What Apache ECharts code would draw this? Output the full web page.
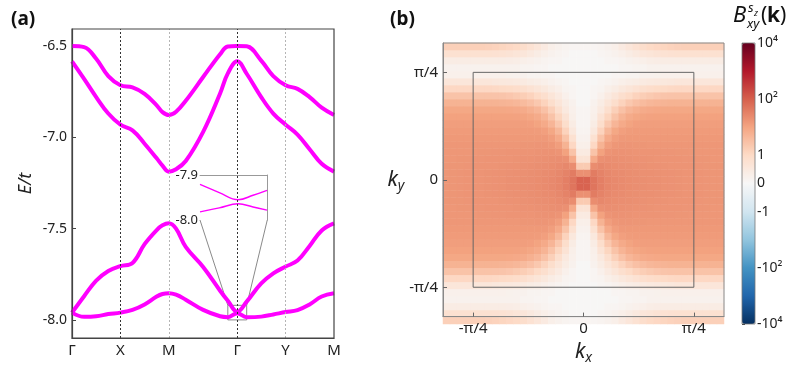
<!DOCTYPE html>
<html><head><meta charset="utf-8">
<script src="https://cdn.jsdelivr.net/npm/echarts@6/dist/echarts.min.js"></script>
<style>html,body{margin:0;padding:0;background:#fff}#c{width:797px;height:370px}</style>
</head><body><div id="c"></div>
<script>
// ---------------- panel (a): band structure ----------------
const pathK = [0, 0.25, 0.5, 0.75, 1, 1.25, 1.5, 1.75, 1.87, 2, 2.15, 2.35, 2.71, 3.06, 3.22, 3.414, 3.61, 3.91, 4.16, 4.414, 4.66, 4.91, 5.16, 5.414];
const pathTickK = [0, 1, 2, 3.414, 4.414, 5.414];
const pathTickLabels = ['Γ', 'X', 'M', 'Γ', 'Y', 'M'];
const band1 = [-6.500, -6.506, -6.570, -6.665, -6.715, -6.727, -6.762, -6.825, -6.862, -6.878, -6.860, -6.800, -6.670, -6.545, -6.503, -6.500, -6.502, -6.580, -6.665, -6.715, -6.735, -6.780, -6.838, -6.878];
const band2 = [-6.584, -6.680, -6.780, -6.870, -6.931, -6.962, -7.035, -7.115, -7.155, -7.188, -7.175, -7.130, -6.970, -6.760, -6.650, -6.584, -6.652, -6.780, -6.870, -6.931, -6.985, -7.065, -7.145, -7.188];
const band3 = [-7.960, -7.870, -7.785, -7.732, -7.705, -7.688, -7.585, -7.508, -7.482, -7.471, -7.500, -7.600, -7.710, -7.840, -7.895, -7.955, -7.900, -7.800, -7.745, -7.708, -7.675, -7.595, -7.510, -7.471];
const band4 = [-7.960, -7.983, -7.980, -7.968, -7.960, -7.945, -7.915, -7.872, -7.858, -7.854, -7.862, -7.889, -7.945, -7.980, -7.985, -7.963, -7.985, -7.982, -7.970, -7.957, -7.946, -7.915, -7.872, -7.854];
const energyTicks = [-8.0, -7.5, -7.0, -6.5];
const guideK = [1, 2, 3.414, 4.414];
const guideDark = [true, false, true, false];
// inset (zoom around the second Γ)
const insetK = [-0.2, -0.099, 0, 0.078, 0.151];
const insetUpper = [-7.921, -7.939, -7.955, -7.945, -7.934];
const insetLower = [-7.982, -7.973, -7.964, -7.971, -7.978];
const insetTicks = [-8.0, -7.9];
const zoomBoxK = [3.22, 3.61];
const zoomBoxE = [-8.0, -7.92];
const insetAnchorK = [2.645, 4.035];
const insetAnchorE = -7.453;

// ---------------- panel (b): map ----------------
const kTickValues = [-Math.PI / 4, 0, Math.PI / 4];
const kTickLabels = ['-π/4', '0', 'π/4'];
const innerBoxHalf = Math.PI / 4;
const cbTickValues = [-5, -3, -1, 0, 1, 3, 5];
const cbTickLabels = ['-10⁴', '-10²', '-1', '0', '1', '10²', '10⁴'];
// rows: |ky| = 0.025 ... 0.975, cols: |kx| = 0.025 ... 0.975
const mapQuadrant = [
 [2.95, 2.70, 2.55, 2.45, 2.40, 2.38, 2.35, 2.33, 2.32, 2.30, 2.30, 2.28, 2.27, 2.26, 2.25, 2.25, 2.24, 2.23, 2.22, 2.22],
 [2.30, 2.60, 2.50, 2.42, 2.38, 2.36, 2.34, 2.32, 2.31, 2.30, 2.29, 2.28, 2.27, 2.26, 2.25, 2.25, 2.24, 2.23, 2.22, 2.22],
 [1.30, 2.35, 2.42, 2.38, 2.35, 2.33, 2.32, 2.30, 2.29, 2.28, 2.27, 2.26, 2.25, 2.25, 2.24, 2.24, 2.23, 2.22, 2.22, 2.22],
 [0.70, 1.90, 2.30, 2.33, 2.32, 2.30, 2.29, 2.28, 2.27, 2.26, 2.25, 2.25, 2.24, 2.24, 2.23, 2.23, 2.22, 2.22, 2.21, 2.21],
 [0.45, 1.45, 2.05, 2.25, 2.28, 2.27, 2.26, 2.25, 2.25, 2.24, 2.24, 2.23, 2.23, 2.22, 2.22, 2.21, 2.21, 2.20, 2.20, 2.20],
 [0.30, 1.05, 1.75, 2.10, 2.20, 2.23, 2.23, 2.22, 2.22, 2.21, 2.21, 2.21, 2.20, 2.20, 2.20, 2.20, 2.20, 2.20, 2.20, 2.20],
 [0.20, 0.80, 1.45, 1.90, 2.10, 2.17, 2.18, 2.18, 2.18, 2.18, 2.18, 2.18, 2.18, 2.18, 2.18, 2.18, 2.18, 2.18, 2.18, 2.18],
 [0.15, 0.55, 1.15, 1.65, 1.95, 2.08, 2.13, 2.15, 2.15, 2.15, 2.15, 2.15, 2.15, 2.15, 2.15, 2.15, 2.15, 2.15, 2.15, 2.15],
 [0.10, 0.40, 0.90, 1.35, 1.70, 1.90, 2.02, 2.08, 2.10, 2.10, 2.10, 2.10, 2.10, 2.10, 2.10, 2.10, 2.10, 2.10, 2.10, 2.10],
 [0.10, 0.30, 0.70, 1.10, 1.45, 1.72, 1.88, 1.97, 2.02, 2.04, 2.05, 2.05, 2.05, 2.05, 2.05, 2.05, 2.05, 2.05, 2.05, 2.05],
 [0.10, 0.25, 0.50, 0.85, 1.20, 1.48, 1.68, 1.80, 1.88, 1.92, 1.94, 1.95, 1.95, 1.95, 1.95, 1.95, 1.95, 1.95, 1.95, 1.95],
 [0.05, 0.20, 0.40, 0.65, 0.90, 1.15, 1.35, 1.50, 1.60, 1.67, 1.71, 1.73, 1.75, 1.75, 1.75, 1.75, 1.75, 1.75, 1.75, 1.75],
 [0.05, 0.10, 0.25, 0.45, 0.65, 0.85, 1.00, 1.15, 1.25, 1.32, 1.38, 1.42, 1.44, 1.45, 1.45, 1.45, 1.45, 1.45, 1.45, 1.45],
 [0.05, 0.10, 0.15, 0.30, 0.40, 0.55, 0.65, 0.75, 0.85, 0.92, 0.97, 1.00, 1.03, 1.05, 1.05, 1.05, 1.05, 1.05, 1.05, 1.05],
 [0.05, 0.05, 0.10, 0.15, 0.20, 0.30, 0.35, 0.40, 0.45, 0.50, 0.52, 0.55, 0.57, 0.60, 0.60, 0.60, 0.60, 0.60, 0.60, 0.60],
 [0.05, 0.05, 0.05, 0.05, 0.10, 0.10, 0.15, 0.15, 0.20, 0.20, 0.22, 0.25, 0.25, 0.25, 0.25, 0.25, 0.25, 0.25, 0.25, 0.25],
 [0.05, 0.05, 0.05, 0.05, 0.05, 0.10, 0.10, 0.15, 0.15, 0.20, 0.20, 0.20, 0.20, 0.20, 0.20, 0.20, 0.20, 0.20, 0.20, 0.20],
 [0.05, 0.05, 0.05, 0.10, 0.10, 0.15, 0.20, 0.25, 0.30, 0.35, 0.38, 0.40, 0.40, 0.40, 0.40, 0.40, 0.40, 0.40, 0.40, 0.40],
 [0.05, 0.05, 0.10, 0.15, 0.20, 0.30, 0.40, 0.50, 0.60, 0.65, 0.70, 0.75, 0.78, 0.80, 0.80, 0.80, 0.80, 0.80, 0.80, 0.80],
 [0.10, 0.10, 0.15, 0.20, 0.30, 0.45, 0.60, 0.75, 0.90, 1.00, 1.05, 1.10, 1.15, 1.18, 1.20, 1.20, 1.20, 1.20, 1.20, 1.20]
];
const rdbuColors = ['#053061', '#2166ac', '#4393c3', '#92c5de', '#d1e5f0', '#f7f7f7', '#fddbc7', '#f4a582', '#d6604d', '#b2182b', '#67001f'];

// ---------------- build ----------------
const FONT = 'Noto Sans';
const MAG = '#ff00ff';
const zip = (xs, ys) => xs.map((x, i) => [x, ys[i]]);
const pick = (vals, labels) => v => {
  let best = 0;
  vals.forEach((t, i) => { if (Math.abs(t - v) < Math.abs(vals[best] - v)) best = i; });
  return labels[best];
};

const nQ = mapQuadrant.length;
const cats = [];
for (let i = 0; i < 2 * nQ; i++) cats.push(String(i));
const mapData = [];
for (let a = 0; a < 2 * nQ; a++) {
  const j = a < nQ ? nQ - 1 - a : a - nQ;
  for (let b = 0; b < 2 * nQ; b++) {
    const i = b < nQ ? nQ - 1 - b : b - nQ;
    mapData.push([a, b, mapQuadrant[i][j]]);
  }
}

const series = [];
series.push({
  type: 'line', xAxisIndex: 0, yAxisIndex: 0, symbol: 'none', z: 2, silent: true,
  lineStyle: { color: '#8a8a8a', width: 1 },
  data: [[zoomBoxK[0], zoomBoxE[0]], [zoomBoxK[1], zoomBoxE[0]], [zoomBoxK[1], zoomBoxE[1]], [zoomBoxK[0], zoomBoxE[1]], [zoomBoxK[0], zoomBoxE[0]]],
  markLine: {
    silent: true, symbol: ['none', 'none'], label: { show: false },
    data: guideK.map((k, i) => ({ xAxis: k, lineStyle: { color: guideDark[i] ? '#333' : '#b5b5b5', type: [2, 2], width: 1 } }))
  }
});
[0, 1].forEach(s => series.push({
  type: 'line', xAxisIndex: 0, yAxisIndex: 0, symbol: 'none', z: 2, silent: true,
  lineStyle: { color: '#8a8a8a', width: 1 },
  data: [[insetAnchorK[s], insetAnchorE], [zoomBoxK[s], zoomBoxE[1]]]
}));
[band1, band2, band3, band4].forEach(b => series.push({
  type: 'line', xAxisIndex: 0, yAxisIndex: 0, symbol: 'none', smooth: 0.4, z: 3,
  lineStyle: { color: MAG, width: 4 }, data: zip(pathK, b)
}));
[insetUpper, insetLower].forEach(b => series.push({
  type: 'line', xAxisIndex: 1, yAxisIndex: 1, symbol: 'none', smooth: 0.4, z: 3,
  lineStyle: { color: MAG, width: 1.4 }, data: zip(insetK, b)
}));
const heatIdx = series.length;
series.push({ type: 'heatmap', xAxisIndex: 2, yAxisIndex: 3, data: mapData, z: 2, silent: true });
series.push({
  type: 'line', xAxisIndex: 3, yAxisIndex: 4, symbol: 'none', z: 10, silent: true,
  lineStyle: { color: '#666', width: 1 },
  data: [[-innerBoxHalf, -innerBoxHalf], [innerBoxHalf, -innerBoxHalf], [innerBoxHalf, innerBoxHalf], [-innerBoxHalf, innerBoxHalf], [-innerBoxHalf, -innerBoxHalf]]
});
series.push({ type: 'line', xAxisIndex: 4, yAxisIndex: 5, data: [] });

const labelStyle = { color: '#222', fontFamily: FONT };
const richK = { k: { fontSize: 21, fontStyle: 'italic', fontFamily: FONT, color: '#222', lineHeight: 26 },
                s: { fontSize: 14, fontStyle: 'italic', fontFamily: FONT, color: '#222', lineHeight: 26, verticalAlign: 'bottom' } };

const option = {
  animation: false,
  backgroundColor: '#fff',
  grid: [
    { left: 72, top: 29, width: 262, height: 309, show: true, borderColor: '#444', borderWidth: 1.2, backgroundColor: 'transparent', z: 10 },
    { left: 200, top: 175, width: 67, height: 45 },
    { left: 443, top: 43, width: 281, height: 281 },
    { left: 443, top: 43, width: 281, height: 281, show: true, borderColor: '#888', borderWidth: 1, backgroundColor: 'transparent', z: 10 },
    { left: 742, top: 43, width: 13, height: 281, show: true, borderColor: '#777', borderWidth: 0.8, backgroundColor: 'transparent', z: 10 }
  ],
  xAxis: [
    { gridIndex: 0, type: 'value', min: 0, max: 5.414, splitLine: { show: false },
      axisLine: { onZero: false, lineStyle: { color: '#444', width: 1.2 } }, axisTick: { show: false },
      axisLabel: Object.assign({ customValues: pathTickK, formatter: pick(pathTickK, pathTickLabels), fontSize: 15, margin: 5 }, labelStyle) },
    { gridIndex: 1, type: 'value', min: -0.2, max: 0.151, position: 'top', splitLine: { show: false },
      axisLine: { show: true, onZero: false, lineStyle: { color: '#999', width: 1 } }, axisTick: { show: false }, axisLabel: { show: false } },
    { gridIndex: 2, type: 'category', data: cats, show: false },
    { gridIndex: 3, type: 'value', min: -1, max: 1, splitLine: { show: false }, z: 10,
      axisLine: { onZero: false, lineStyle: { color: '#888', width: 1 } },
      axisTick: { inside: true, length: 4, customValues: kTickValues, lineStyle: { color: '#666' } },
      axisLabel: Object.assign({ customValues: kTickValues, formatter: pick(kTickValues, kTickLabels), fontSize: 15, margin: 5 }, labelStyle),
      name: '{k|k}{s|x}', nameLocation: 'middle', nameGap: 21, nameTextStyle: { rich: richK } },
    { gridIndex: 4, type: 'value', min: 0, max: 1, show: false }
  ],
  yAxis: [
    { gridIndex: 0, type: 'value', min: -8.099, max: -6.407, splitLine: { show: false },
      axisLine: { onZero: false, lineStyle: { color: '#444', width: 1.2 } },
      axisTick: { inside: true, length: 4, customValues: energyTicks, lineStyle: { color: '#444' } },
      axisLabel: Object.assign({ customValues: energyTicks, formatter: v => v.toFixed(1), fontSize: 14, margin: 5 }, labelStyle),
      name: 'E/t', nameLocation: 'middle', nameGap: 37,
      nameTextStyle: { fontSize: 18, fontStyle: 'italic', fontFamily: FONT, color: '#222' } },
    { gridIndex: 1, type: 'value', min: -8.0, max: -7.9, position: 'left', splitLine: { show: false },
      axisLine: { show: false }, axisTick: { show: false },
      axisLabel: Object.assign({ customValues: insetTicks, formatter: v => v.toFixed(1), fontSize: 13, margin: 2 }, labelStyle) },
    { gridIndex: 1, type: 'value', min: -8.0, max: -7.9, position: 'right', splitLine: { show: false },
      axisLine: { show: true, onZero: false, lineStyle: { color: '#999', width: 1 } }, axisTick: { show: false }, axisLabel: { show: false } },
    { gridIndex: 2, type: 'category', data: cats, show: false },
    { gridIndex: 3, type: 'value', min: -1, max: 1, splitLine: { show: false }, z: 10,
      axisLine: { onZero: false, lineStyle: { color: '#888', width: 1 } },
      axisTick: { inside: true, length: 4, customValues: kTickValues, lineStyle: { color: '#666' } },
      axisLabel: Object.assign({ customValues: kTickValues, formatter: pick(kTickValues, kTickLabels), fontSize: 15, margin: 5 }, labelStyle),
      name: '{k|k}{s|y}', nameLocation: 'middle', nameGap: 22, nameRotate: 0, nameTextStyle: { rich: richK } },
    { gridIndex: 4, type: 'value', min: -5, max: 5, position: 'right', splitLine: { show: false },
      axisLine: { show: false },
      axisTick: { show: true, inside: false, length: 3, customValues: cbTickValues, lineStyle: { color: '#333' } },
      axisLabel: Object.assign({ customValues: cbTickValues, formatter: pick(cbTickValues, cbTickLabels), fontSize: 14, margin: 2 }, labelStyle) }
  ],
  visualMap: {
    type: 'continuous', seriesIndex: heatIdx, dimension: 2, min: -5, max: 5,
    left: 742, top: 43, itemWidth: 13, itemHeight: 281, padding: 0,
    calculable: false, hoverLink: false, text: null, orient: 'vertical',
    inRange: { color: rdbuColors }
  },
  graphic: [
    { type: 'text', x: 11, y: 10, style: { text: '(a)', font: 'bold 19px "Noto Sans"', fill: '#111' } },
    { type: 'text', x: 390, y: 10, style: { text: '(b)', font: 'bold 19px "Noto Sans"', fill: '#111' } },
    { type: 'text', x: 733, y: 27, style: { text: 'B', font: 'italic 22px "Noto Sans"', fill: '#111', verticalAlign: 'bottom' } },
    { type: 'text', x: 748, y: 15, style: { text: 's', font: 'italic 13px "Noto Sans"', fill: '#111', verticalAlign: 'bottom' } },
    { type: 'text', x: 754, y: 18, style: { text: 'z', font: 'italic 9px "Noto Sans"', fill: '#111', verticalAlign: 'bottom' } },
    { type: 'text', x: 747, y: 31, style: { text: 'xy', font: 'italic 13px "Noto Sans"', fill: '#111', verticalAlign: 'bottom' } },
    { type: 'text', x: 761, y: 27, style: { text: '(', font: '21px "Noto Sans"', fill: '#111', verticalAlign: 'bottom' } },
    { type: 'text', x: 767, y: 27, style: { text: 'k', font: 'bold 21px "Noto Sans"', fill: '#111', verticalAlign: 'bottom' } },
    { type: 'text', x: 780, y: 27, style: { text: ')', font: '21px "Noto Sans"', fill: '#111', verticalAlign: 'bottom' } }
  ],
  series: series
};

const chart = echarts.init(document.getElementById('c'), null, { renderer: 'canvas' });
chart.setOption(option);
</script>
</body></html>
